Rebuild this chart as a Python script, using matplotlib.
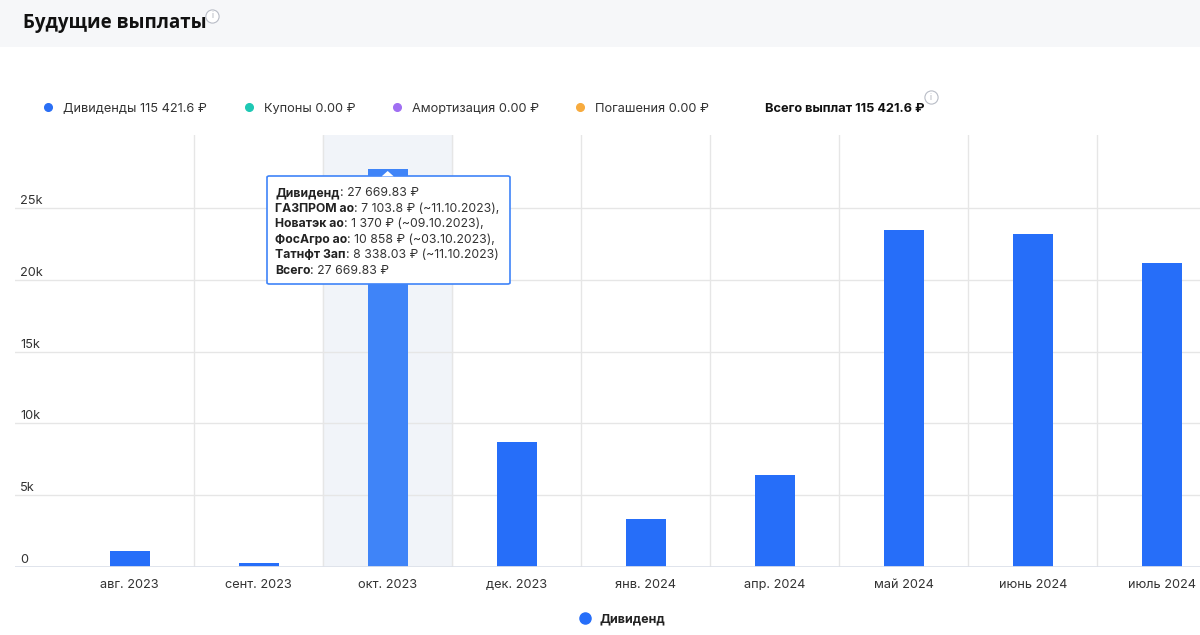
import numpy as np
import matplotlib
matplotlib.use("Agg")
import matplotlib.pyplot as plt
from matplotlib.patches import Rectangle, FancyBboxPatch, Polygon
from matplotlib.lines import Line2D

# monthly future dividend payments
months = ["авг. 2023", "сент. 2023", "окт. 2023", "дек. 2023", "янв. 2024",
          "апр. 2024", "май 2024", "июнь 2024", "июль 2024"]
dividends = [1120, 300, 27669.83, 8680, 3360, 6440, 23480, 23190, 21181.77]
coupons_total = 0.0
amort_total = 0.0
redemption_total = 0.0

# tooltip for the highlighted month
hover_index = 2
tip_names = ["ГАЗПРОМ ао", "Новатэк ао", "ФосАгро ао", "Татнфт Зап"]
tip_amounts = [7103.8, 1370, 10858, 8338.03]
tip_dates = ["11.10.2023", "09.10.2023", "03.10.2023", "11.10.2023"]

yticks = [0, 5000, 10000, 15000, 20000, 25000]
ytick_labels = ["0", "5k", "10k", "15k", "20k", "25k"]

BLUE = "#266ef9"
BLUE_HOVER = "#3f84f8"
TEXT = "#333333"
FONT = ["Inter", "DejaVu Sans"]

plt.rcParams["font.family"] = FONT

W, H = 1200, 635
fig = plt.figure(figsize=(12, 6.35), dpi=100)


def fx(x):
    return x / W


def fy(y):
    return 1 - y / H


def money(v):
    return f"{v:,}".replace(",", " ")


def dot(x, y, size, color, **kw):
    fig.add_artist(Line2D([fx(x)], [fy(y)], marker="o", markersize=size, color=color,
                          linestyle="none", transform=fig.transFigure, **kw))


# header band
fig.patches.append(Rectangle((0, fy(47)), 1, 47 / H, transform=fig.transFigure,
                             facecolor="#f6f7f9", edgecolor="none", zorder=0))
fig.text(fx(23), fy(23), "Будущие выплаты", fontsize=13.5, fontweight="bold",
         family=["Open Sans", "DejaVu Sans"], color="#111111", va="center")


def info_icon(x, y):
    dot(x, y, 9.5, "white", markeredgecolor="#b8bcc6", markeredgewidth=0.8)
    fig.text(fx(x), fy(y), "i", fontsize=6, color="#a8acb6", ha="center", va="center")


info_icon(212, 16)

# top legend row
total_div = round(sum(dividends), 1)
legend_items = [
    (48, "#2a6ff5", f"Дивиденды {money(total_div)} ₽"),
    (249, "#1ec8b4", f"Купоны {coupons_total:.2f} ₽"),
    (397, "#a06ff2", f"Амортизация {amort_total:.2f} ₽"),
    (580, "#f7ab3e", f"Погашения {redemption_total:.2f} ₽"),
]
for x, c, label in legend_items:
    dot(x, 107, 5.5, c)
    fig.text(fx(x + 15), fy(108.5), label, fontsize=9.2, color=TEXT, va="center")
fig.text(fx(765), fy(108.5), f"Всего выплат {money(total_div)} ₽", fontsize=9.2,
         fontweight="bold", color="#111111", va="center")
info_icon(931, 97)

# main axes: left edge at x=15, baseline at y=567, top at y=135
ax = fig.add_axes([fx(15), fy(567.3), fx(1185), (567.3 - 135) / H])
x = np.arange(len(months))
ax.set_xlim(-0.888, 8.295)
ax.set_ylim(0, 30060)

# highlighted column
ax.axvspan(hover_index - 0.5, hover_index + 0.5, color="#f1f4f9", zorder=0)

for v in yticks[1:]:
    ax.axhline(v, color="#e6e6e6", lw=1, zorder=1)
for b in x[:-1] + 0.5:
    ax.axvline(b, color="#e6e6e6", lw=1, zorder=1)

colors = [BLUE_HOVER if i == hover_index else BLUE for i in range(len(months))]
ax.bar(x, dividends, width=0.31, color=colors, zorder=3)
ax.axhline(0, color="#dde1ea", lw=2, zorder=4)

for s in ax.spines.values():
    s.set_visible(False)
ax.set_yticks([])
ax.set_xticks(x)
ax.set_xticklabels(months, fontsize=9.2, color=TEXT)
ax.tick_params(axis="x", length=0, pad=8.5)

for v, lab in zip(yticks, ytick_labels):
    fig.text(fx(20), ax.transData.transform((0, v))[1] / H + 1 / H, lab,
             fontsize=9.2, color=TEXT, va="bottom", ha="left")

# bottom legend
dot(585, 618, 8, BLUE)
fig.text(fx(599), fy(619), "Дивиденд", fontsize=9, fontweight="bold",
         color="#222222", va="center")

# tooltip
box_l, box_t, box_r, box_b = 267, 176, 510, 284
fig.patches.append(FancyBboxPatch((fx(box_l), fy(box_b)), fx(box_r - box_l), (box_b - box_t) / H,
                                  boxstyle="round,pad=0,rounding_size=0.002",
                                  transform=fig.transFigure, facecolor="white",
                                  edgecolor="#3f84f8", lw=1.2, zorder=10))
bar_x = ax.transData.transform((hover_index, 0))[0]
fig.patches.append(Polygon([(bar_x / W - 6 / W, fy(box_t) - 0.0005),
                            (bar_x / W, fy(box_t - 5)),
                            (bar_x / W + 6 / W, fy(box_t) - 0.0005)],
                           closed=True, transform=fig.transFigure,
                           facecolor="white", edgecolor="none", zorder=11))

lines = [("Дивиденд", f": {money(dividends[hover_index])} ₽")]
for i, (n, a, d) in enumerate(zip(tip_names, tip_amounts, tip_dates)):
    tail = "," if i < len(tip_names) - 1 else ""
    lines.append((n, f": {money(a)} ₽ (~{d}){tail}"))
lines.append(("Всего", f": {money(dividends[hover_index])} ₽"))

renderer = fig.canvas.get_renderer()
for i, (bold, rest) in enumerate(lines):
    y = fy(193 + i * 15.6)
    t = fig.text(fx(275), y, bold, fontsize=8.8, fontweight="bold", color="#222222",
                 va="center", zorder=12)
    bb = t.get_window_extent(renderer)
    fig.text(bb.x1 / W, y, rest, fontsize=8.8, color="#333333", va="center", zorder=12)

fig.savefig("out.png", dpi=100)
